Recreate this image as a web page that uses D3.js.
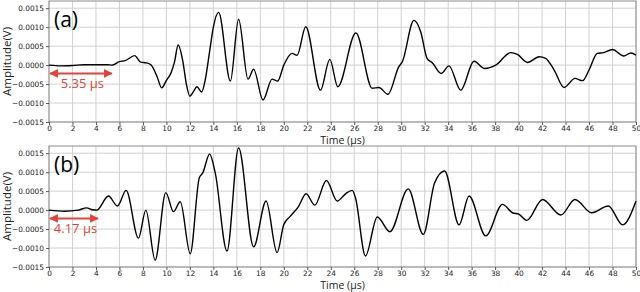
<!DOCTYPE html>
<html>
<head>
<meta charset="utf-8">
<script src="https://cdn.jsdelivr.net/npm/d3@7"></script>
<style>
  body { margin: 0; background: #fff; }
  svg { display: block; }
</style>
</head>
<body>
<svg id="chart" width="640" height="292"></svg>
<script>
// waveform (a): time in µs, amplitude in V
var timeA = [0, 1, 2, 3, 4, 5, 5.35, 6, 6.5, 7.3, 7.8, 8.3, 8.7, 9.2, 9.6, 10, 10.4, 10.7, 11, 11.4, 11.7, 12, 12.3, 12.6, 13, 13.3, 13.7, 14, 14.45,
  15.45, 16.15, 16.95, 17.43, 18.23, 19.0, 19.48, 20.0, 20.7, 21.13, 21.87, 23.12, 23.92, 24.6, 26.14, 27.53, 28.1, 28.87, 29.8, 30.1, 31.08,
  31.66, 32.2, 32.65, 33.42, 34.07, 35.07, 36.2, 37.12, 38.05, 39.33, 39.9, 40.76, 41.75, 42.3, 43.03, 43.88, 44.8, 45.45, 46.0, 46.7, 47.24,
  48.0, 48.95, 49.57, 50];
var ampA = [0, -0.00002, -0.00001, 0.00001, 0.00001, 0.00001, 0, 0.00009, 0.00012, 0.00025, 0.00008, 0.00006, 0.0, -0.0003, -0.0006, -0.0004, -0.0002, 0.0001, 0.00053, 0.0001, -0.0005, -0.00082, -0.0007, -0.00057, -0.00071, -0.0004, 0.0004, 0.001, 0.00139,
  -0.00042, 0.00121, -0.00037, -0.00011, -0.00092, -0.00037, -0.00042, 0.0, 0.00031, 0.00026, 0.00101, -0.00066, 0.00015, -0.00057, 0.00085, -0.00061, -0.00059, -0.00077, -0.00004, 0.00009, 0.00118,
  0.00088, 0.00018, 0.00006, -0.00022, -0.00002, -0.00066, 0.0001, -0.00009, 0.0, 0.00033, 0.00028, 0.00007, 0.00022, 0.00018, -0.00013, -0.00059, -0.00035, -0.00041, -0.00013, 0.00031, 0.00033,
  0.00041, 0.00024, 0.00032, 0.00026];

// waveform (b)
var timeB = [0, 1.3, 2.5, 3.2, 3.7, 4.07, 5.06, 5.83, 6.57, 7.62, 8.25, 9.04, 9.95, 10.6, 11.18, 12.03, 12.8, 13.1, 13.68, 14.16,
  15.16, 16.15, 17.43, 18.49, 19.43, 20.0, 20.56, 21.22, 21.9, 22.64, 23.63, 24.55, 25.26, 25.83, 26.1, 26.96, 27.96, 29.04, 30.6,
  31.88, 32.85, 33.7, 34.93, 35.78, 37.2, 38.63, 39.48, 40.04, 40.7, 42.04, 43.6, 44.8, 46.22, 47.64, 48.86, 50];
var ampB = [0, -0.00003, 0.0, 0.00006, 0.00001, 0.0, 0.00037, 0.00011, 0.00052, -0.00074, 0.0, -0.00132, 0.00046, -0.00004, 0.00022, -0.00115, 0.00085, 0.00098, 0.00148, 0.00098,
  -0.00108, 0.00164, -0.00097, 0.00024, -0.00112, -0.00038, -0.00016, 0.00008, 0.00043, 0.00013, 0.00078, 0.00024, 0.00043, 0.00052, 0.00033, -0.00121, -0.00018, -0.00057, 0.00056,
  -0.00064, 0.00072, 0.00103, -0.00039, 0.00037, -0.00068, 0.00015, -0.00007, -0.00011, -0.00027, 0.00028, -0.00013, 0.00028, -0.00007, 0.00011, -0.00039, 0.00024];

var xTicks = d3.range(0, 51, 2);
var yTicks = [-0.0015, -0.001, -0.0005, 0, 0.0005, 0.001, 0.0015];

var panels = [
  { label: "(a)", t: timeA, v: ampA, top: 1, delay: 5.35, delayText: "5.35 µs" },
  { label: "(b)", t: timeB, v: ampB, top: 146, delay: 4.17, delayText: "4.17 µs" }
];

var left = 49, right = 636, ph = 121;
var red = "#e0443a";

var svg = d3.select("#chart");
var defs = svg.append("defs");
defs.append("marker")
    .attr("id", "head")
    .attr("viewBox", "0 0 10 10")
    .attr("refX", 9).attr("refY", 5)
    .attr("markerWidth", 4.4).attr("markerHeight", 4.4)
    .attr("markerUnits", "strokeWidth")
    .attr("orient", "auto-start-reverse")
    .append("path")
    .attr("d", "M0,0L10,5L0,10z")
    .attr("fill", red);

var xScale = d3.scaleLinear().domain([0, 50]).range([left, right]);

panels.forEach(function(p) {
  var yScale = d3.scaleLinear().domain([-0.0015, 0.00169]).range([p.top + ph, p.top]);
  var g = svg.append("g");

  // grid
  g.selectAll(".vg").data(xTicks).enter().append("line")
    .attr("x1", function(d) { return xScale(d); })
    .attr("x2", function(d) { return xScale(d); })
    .attr("y1", p.top).attr("y2", p.top + ph)
    .attr("stroke", "#d0d0d0").attr("stroke-width", 1);
  g.selectAll(".hg").data(yTicks).enter().append("line")
    .attr("x1", left).attr("x2", right)
    .attr("y1", function(d) { return yScale(d); })
    .attr("y2", function(d) { return yScale(d); })
    .attr("stroke", "#d0d0d0").attr("stroke-width", 1);

  // frame
  g.append("rect")
    .attr("x", left).attr("y", p.top)
    .attr("width", right - left).attr("height", ph)
    .attr("fill", "none").attr("stroke", "#8c8c8c").attr("stroke-width", 1);

  // axes
  var xAxis = d3.axisBottom(xScale).tickValues(xTicks).tickSize(3).tickPadding(1)
    .tickFormat(d3.format("d"));
  var gx = g.append("g").attr("transform", "translate(0," + (p.top + ph) + ")").call(xAxis);
  var yAxis = d3.axisLeft(yScale).tickValues(yTicks).tickSize(3).tickPadding(2)
    .tickFormat(function(d) { return d3.format(".4f")(d).replace("-", "\u2212"); });
  var gy = g.append("g").attr("transform", "translate(" + left + ",0)").call(yAxis);
  [gx, gy].forEach(function(a) {
    a.select(".domain").remove();
    a.selectAll("line").attr("stroke", "#555");
    a.selectAll("text").attr("fill", "#222")
      .style("font-family", "DejaVu Sans").style("font-size", "7.4px");
  });

  // waveform
  var line = d3.line()
    .x(function(d, i) { return xScale(p.t[i]); })
    .y(function(d) { return yScale(d); })
    .curve(d3.curveMonotoneX);
  g.append("path")
    .attr("d", line(p.v))
    .attr("fill", "none").attr("stroke", "#000").attr("stroke-width", 1.4);

  // labels
  g.append("text")
    .attr("x", 54).attr("y", p.top + 26)
    .style("font-family", "Open Sans").style("font-size", "21px")
    .text(p.label);
  g.append("text")
    .attr("x", (left + right) / 2).attr("y", p.top + ph + 21.5)
    .attr("text-anchor", "middle")
    .style("font-family", "Open Sans").style("font-size", "10.5px").attr("fill", "#222")
    .text("Time (µs)");
  g.append("text")
    .attr("transform", "translate(11," + (p.top + ph / 2) + ") rotate(-90)")
    .attr("text-anchor", "middle")
    .style("font-family", "Open Sans").style("font-size", "11.5px").attr("fill", "#222")
    .text("Amplitude(V)");

  // delay arrow
  var ay = yScale(-0.00022);
  g.append("line")
    .attr("x1", xScale(0) + 1).attr("x2", xScale(p.delay))
    .attr("y1", ay).attr("y2", ay)
    .attr("stroke", red).attr("stroke-width", 2)
    .attr("marker-start", "url(#head)").attr("marker-end", "url(#head)");
  g.append("text")
    .attr("x", (xScale(0) + xScale(p.delay)) / 2 + 2).attr("y", ay + 15)
    .attr("text-anchor", "middle")
    .style("font-family", "Open Sans").style("font-size", "13px").attr("fill", "#d9473a")
    .text(p.delayText);
});
</script>
</body>
</html>
